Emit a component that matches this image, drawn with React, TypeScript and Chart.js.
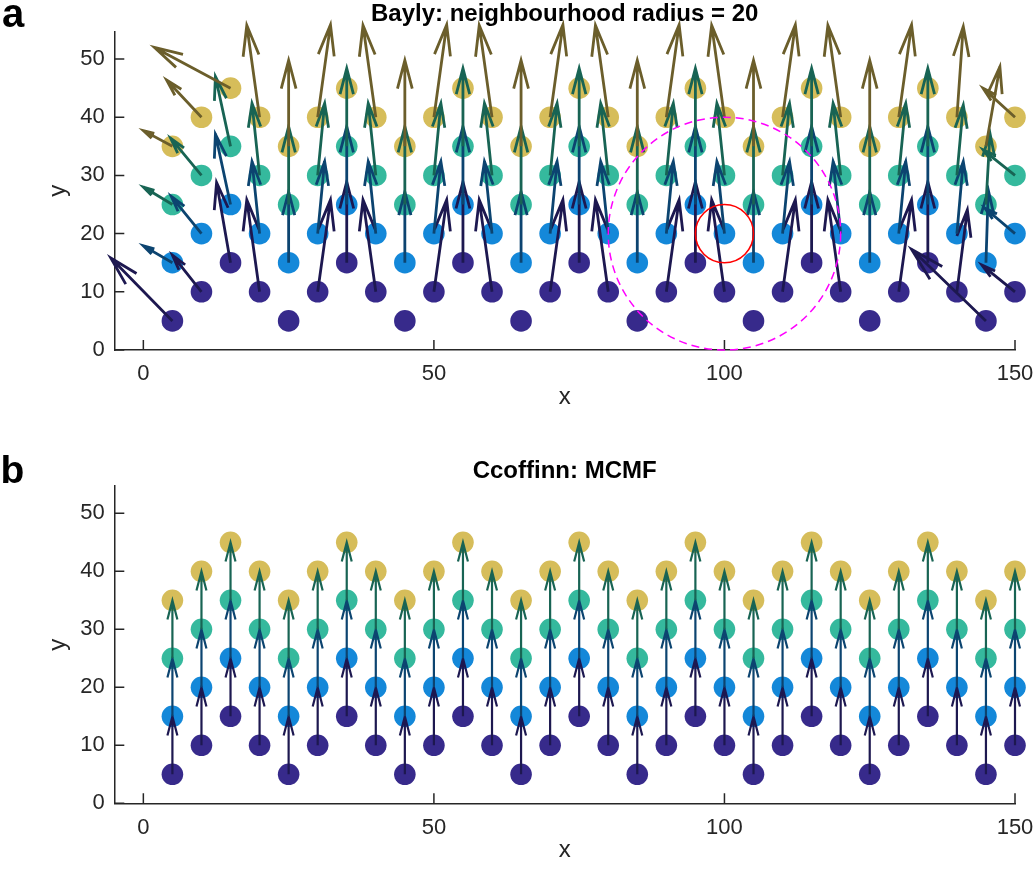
import React, { useEffect, useRef } from "react";
import { Chart, registerables } from "chart.js";

Chart.register(...registerables);

const FONT = "'Liberation Sans', Arial, Helvetica, sans-serif";
const AXIS_COLOR = "#262626";

// Grid columns and the four stacked layers of points in each column
const columnX = [5, 10, 15, 20, 25, 30, 35, 40, 45, 50, 55, 60, 65, 70, 75, 80, 85, 90, 95, 100, 105, 110, 115, 120, 125, 130, 135, 140, 145, 150];
const layerY1 = [5, 10, 15, 10, 5, 10, 15, 10, 5, 10, 15, 10, 5, 10, 15, 10, 5, 10, 15, 10, 5, 10, 15, 10, 5, 10, 15, 10, 5, 10];
const layerY2 = [15, 20, 25, 20, 15, 20, 25, 20, 15, 20, 25, 20, 15, 20, 25, 20, 15, 20, 25, 20, 15, 20, 25, 20, 15, 20, 25, 20, 15, 20];
const layerY3 = [25, 30, 35, 30, 25, 30, 35, 30, 25, 30, 35, 30, 25, 30, 35, 30, 25, 30, 35, 30, 25, 30, 35, 30, 25, 30, 35, 30, 25, 30];
const layerY4 = [35, 40, 45, 40, 35, 40, 45, 40, 35, 40, 45, 40, 35, 40, 45, 40, 35, 40, 45, 40, 35, 40, 45, 40, 35, 40, 45, 40, 35, 40];

const markerColors = ["#372a8b", "#1488d9", "#35b99d", "#d6bd5a"];
const arrowColors = ["#1d1850", "#0c4470", "#186454", "#6b5e2b"];

const xTicks = [0, 50, 100, 150];
const yTicks = [0, 10, 20, 30, 40, 50];
const xLimits = [-5, 150];
const yLimits = [0, 54.7];

// Bayly estimate (radius 20): displacement vectors per layer
const baylyU1 = [-10.6, -5.0, -2.4, -2.2, 0, 2.2, 0, -2.2, 0, 2.2, 0, -2.2, 0, 2.2, 0, -2.2, 0, 2.2, 0, -2.2, 0, 2.2, 0, -2.2, 0, 2.2, 0, 1.8, -12.8, -5.7];
const baylyV1 = [10.8, 6.3, 13.8, 15.8, 0, 15.8, 13.9, 15.8, 0, 15.8, 13.9, 15.8, 0, 15.8, 13.9, 15.8, 0, 15.8, 13.9, 15.8, 0, 15.8, 13.9, 15.8, 0, 15.8, 13.9, 14.1, 12.3, 4.6];
const baylyU2 = [-5.0, -5.2, -2.6, -1.3, 0, 1.2, 0, -1.3, 0, 1.2, 0, -1.3, 0, 1.2, 0, -1.3, 0, 1.2, 0, -1.3, 0, 1.2, 0, -1.3, 0, 1.2, 0, 1.1, 0.4, -5.2];
const baylyV2 = [2.9, 6.4, 12.1, 12.4, 12.2, 12.4, 13.4, 12.4, 12.2, 12.4, 13.4, 12.4, 12.2, 12.4, 13.4, 12.4, 12.2, 12.4, 13.4, 12.4, 12.2, 12.4, 13.4, 12.4, 12.2, 12.4, 13.4, 12.4, 12.5, 4.4];
const baylyU3 = [-5.0, -5.3, -2.6, -1.3, 0, 1.2, 0, -1.3, 0, 1.2, 0, -1.3, 0, 1.2, 0, -1.3, 0, 1.2, 0, -1.3, 0, 1.2, 0, -1.3, 0, 1.2, 0, 1.1, 0.7, -5.5];
const baylyV3 = [3.0, 6.4, 12.0, 12.4, 13.4, 12.4, 13.4, 12.4, 13.4, 12.4, 13.4, 12.4, 13.4, 12.4, 13.4, 12.4, 13.4, 12.4, 13.4, 12.4, 13.4, 12.4, 13.4, 12.4, 13.4, 12.4, 13.4, 12.1, 12.2, 4.4];
const baylyU4 = [-5.0, -6.0, -13.1, -2.2, 0, 2.2, 0, -2.2, 0, 2.2, 0, -2.2, 0, 2.2, 0, -2.2, 0, 2.2, 0, -2.2, 0, 2.2, 0, -2.2, 0, 2.2, 0, 1.1, 2.4, -5.5];
const baylyV4 = [2.7, 6.4, 7.0, 15.8, 14.8, 15.9, 0, 15.8, 14.8, 15.9, 0, 15.8, 14.8, 15.9, 0, 15.8, 14.8, 15.9, 0, 15.8, 14.8, 15.9, 0, 15.8, 14.8, 15.9, 0, 15.6, 13.7, 5.0];

// MCMF: every point steps straight up to the next layer; the top layer has no vector
const mcmfStepU = [0, 0, 0, 0];
const mcmfStepV = [10, 10, 10, 0];

// Neighbourhood highlight around the focus point
const focusPoint = [100, 20];
const neighbourhoodRadius = 20;
const focusRadius = 5;

// quiver arrow-head proportions
const HEAD_LENGTH = 0.33;
const HEAD_WIDTH = 0.26;

type Vec = { u: number[]; v: number[] };

type PanelSpec = {
  top: number;
  height: number;
  plotBottom: number;
  padTop: number;
  titleGap: number;
  xTitleGap: number;
  title: string;
  letter: string;
  letterX: number;
  letterY: number;
  letterSize: number;
  vectors: Vec[];
  arrowWidth: number;
  showNeighbourhood: boolean;
};

const layers = [layerY1, layerY2, layerY3, layerY4];

const baylyVectors: Vec[] = [
  { u: baylyU1, v: baylyV1 },
  { u: baylyU2, v: baylyV2 },
  { u: baylyU3, v: baylyV3 },
  { u: baylyU4, v: baylyV4 },
];

const mcmfVectors: Vec[] = mcmfStepV.map((step, k) => ({
  u: columnX.map(() => mcmfStepU[k]),
  v: columnX.map(() => step),
}));

const panelA: PanelSpec = {
  top: 0,
  height: 420,
  plotBottom: 350,
  padTop: 2,
  titleGap: 5.7,
  xTitleGap: 8.3,
  title: "Bayly: neighbourhood radius = 20",
  letter: "a",
  letterX: 2,
  letterY: 26.7,
  letterSize: 40,
  vectors: baylyVectors,
  arrowWidth: 2.8,
  showNeighbourhood: true,
};

const panelB: PanelSpec = {
  top: 440,
  height: 433,
  plotBottom: 363.3,
  padTop: 19,
  titleGap: 3,
  xTitleGap: 8,
  title: "Ccoffinn: MCMF",
  letter: "b",
  letterX: 0.5,
  letterY: 42.7,
  letterSize: 39,
  vectors: mcmfVectors,
  arrowWidth: 2.2,
  showNeighbourhood: false,
};

function quiverPlugin(vectors: Vec[], lineWidth: number) {
  return {
    id: "quiver",
    afterDatasetsDraw(chart: any) {
      const { ctx } = chart;
      const xs = chart.scales.x;
      const ys = chart.scales.y;
      ctx.save();
      ctx.lineWidth = lineWidth;
      ctx.lineCap = "butt";
      ctx.lineJoin = "miter";
      layers.forEach((layer, k) => {
        ctx.strokeStyle = arrowColors[k];
        columnX.forEach((cx, i) => {
          const u = vectors[k].u[i];
          const v = vectors[k].v[i];
          if (u === 0 && v === 0) return;
          const x0 = xs.getPixelForValue(cx);
          const y0 = ys.getPixelForValue(layer[i]);
          const x1 = xs.getPixelForValue(cx + u);
          const y1 = ys.getPixelForValue(layer[i] + v);
          const dx = x1 - x0;
          const dy = y1 - y0;
          const hx1 = x1 - HEAD_LENGTH * (dx + HEAD_WIDTH * dy);
          const hy1 = y1 - HEAD_LENGTH * (dy - HEAD_WIDTH * dx);
          const hx2 = x1 - HEAD_LENGTH * (dx - HEAD_WIDTH * dy);
          const hy2 = y1 - HEAD_LENGTH * (dy + HEAD_WIDTH * dx);
          ctx.beginPath();
          ctx.moveTo(x0, y0);
          ctx.lineTo(x1, y1);
          ctx.moveTo(hx1, hy1);
          ctx.lineTo(x1, y1);
          ctx.lineTo(hx2, hy2);
          ctx.stroke();
        });
      });
      ctx.restore();
    },
  };
}

function decorPlugin(spec: PanelSpec) {
  return {
    id: "decor",
    afterDraw(chart: any) {
      const { ctx, chartArea } = chart;
      const xs = chart.scales.x;
      const ys = chart.scales.y;
      ctx.save();
      // inward tick marks
      ctx.strokeStyle = AXIS_COLOR;
      ctx.lineWidth = 1.5;
      ctx.beginPath();
      xs.ticks.forEach((t: any) => {
        const px = xs.getPixelForValue(t.value);
        ctx.moveTo(px, chartArea.bottom);
        ctx.lineTo(px, chartArea.bottom - 10);
      });
      ys.ticks.forEach((t: any) => {
        const py = ys.getPixelForValue(t.value);
        ctx.moveTo(chartArea.left, py);
        ctx.lineTo(chartArea.left + 10, py);
      });
      ctx.stroke();

      // neighbourhood and focus circles
      if (spec.showNeighbourhood) {
        const cx = xs.getPixelForValue(focusPoint[0]);
        const cy = ys.getPixelForValue(focusPoint[1]);
        const rxN = Math.abs(xs.getPixelForValue(focusPoint[0] + neighbourhoodRadius) - cx);
        const ryN = Math.abs(ys.getPixelForValue(focusPoint[1] + neighbourhoodRadius) - cy);
        ctx.strokeStyle = "#ff00ff";
        ctx.lineWidth = 1.5;
        ctx.setLineDash([8, 5]);
        ctx.beginPath();
        ctx.ellipse(cx, cy, rxN, ryN, 0, 0, Math.PI * 2);
        ctx.stroke();
        const rxF = Math.abs(xs.getPixelForValue(focusPoint[0] + focusRadius) - cx);
        const ryF = Math.abs(ys.getPixelForValue(focusPoint[1] + focusRadius) - cy);
        ctx.setLineDash([]);
        ctx.strokeStyle = "#ff0000";
        ctx.lineWidth = 1.6;
        ctx.beginPath();
        ctx.ellipse(cx, cy, rxF, ryF, 0, 0, Math.PI * 2);
        ctx.stroke();
      }

      // panel letter
      ctx.fillStyle = "#000";
      ctx.font = `bold ${spec.letterSize}px ${FONT}`;
      ctx.textAlign = "left";
      ctx.textBaseline = "alphabetic";
      ctx.fillText(spec.letter, spec.letterX, spec.letterY);
      ctx.restore();
    },
  };
}

function buildConfig(spec: PanelSpec): any {
  const datasets = layers.map((layer, k) => ({
    type: "scatter",
    label: `layer ${k + 1}`,
    data: columnX.map((x, i) => ({ x, y: layer[i] })),
    backgroundColor: markerColors[k],
    borderWidth: 0,
    pointRadius: 10.8,
    pointHoverRadius: 10.8,
    clip: false,
  }));

  return {
    type: "scatter",
    data: { datasets },
    options: {
      responsive: false,
      animation: false,
      devicePixelRatio: 1,
      events: [],
      layout: { padding: { left: 0, right: 18, top: spec.padTop, bottom: 0 } },
      plugins: {
        legend: { display: false },
        tooltip: { enabled: false },
        title: {
          display: true,
          text: spec.title,
          fullSize: false,
          color: "#000",
          font: { family: FONT, size: 24, weight: "bold", lineHeight: 1 },
          padding: { top: 0, bottom: spec.titleGap },
        },
      },
      scales: {
        x: {
          type: "linear",
          position: "bottom",
          min: xLimits[0],
          max: xLimits[1],
          afterBuildTicks: (axis: any) => {
            axis.ticks = xTicks.map((value) => ({ value }));
          },
          afterFit: (axis: any) => {
            axis.height = spec.height - spec.plotBottom;
            axis.paddingLeft = 0;
            axis.paddingRight = 0;
          },
          grid: { display: false, drawTicks: false },
          border: { display: true, color: AXIS_COLOR, width: 1.5 },
          ticks: {
            color: AXIS_COLOR,
            font: { family: FONT, size: 22 },
            padding: 11.2,
            maxRotation: 0,
            autoSkip: false,
            callback: (v: any) => String(v),
          },
          title: {
            display: true,
            text: "x",
            color: AXIS_COLOR,
            font: { family: FONT, size: 24 },
            padding: { top: 0, bottom: spec.xTitleGap },
          },
        },
        y: {
          type: "linear",
          position: "left",
          min: yLimits[0],
          max: yLimits[1],
          afterBuildTicks: (axis: any) => {
            axis.ticks = yTicks.map((value) => ({ value }));
          },
          afterFit: (axis: any) => {
            axis.width = 114.3;
            axis.paddingTop = 0;
            axis.paddingBottom = 0;
          },
          grid: { display: false, drawTicks: false },
          border: { display: true, color: AXIS_COLOR, width: 1.5 },
          ticks: {
            color: AXIS_COLOR,
            font: { family: FONT, size: 22 },
            padding: 9.5,
            autoSkip: false,
            callback: (v: any) => String(v),
          },
          title: {
            display: true,
            text: "y",
            color: AXIS_COLOR,
            font: { family: FONT, size: 24 },
            padding: { top: 44, bottom: 0 },
          },
        },
      },
    },
    plugins: [quiverPlugin(spec.vectors, spec.arrowWidth), decorPlugin(spec)],
  };
}

function Panel({ spec }: { spec: PanelSpec }) {
  const ref = useRef<HTMLCanvasElement>(null);
  useEffect(() => {
    const chart = new Chart(ref.current as HTMLCanvasElement, buildConfig(spec));
    return () => chart.destroy();
  }, [spec]);
  return (
    <canvas
      ref={ref}
      width={1033}
      height={spec.height}
      style={{ position: "absolute", left: 0, top: spec.top, width: 1033, height: spec.height, display: "block" }}
    />
  );
}

export default function App() {
  return (
    <div
      style={{
        position: "absolute",
        left: 0,
        top: 0,
        width: 1033,
        height: 873,
        overflow: "hidden",
        background: "#ffffff",
      }}
    >
      <Panel spec={panelA} />
      <Panel spec={panelB} />
    </div>
  );
}
